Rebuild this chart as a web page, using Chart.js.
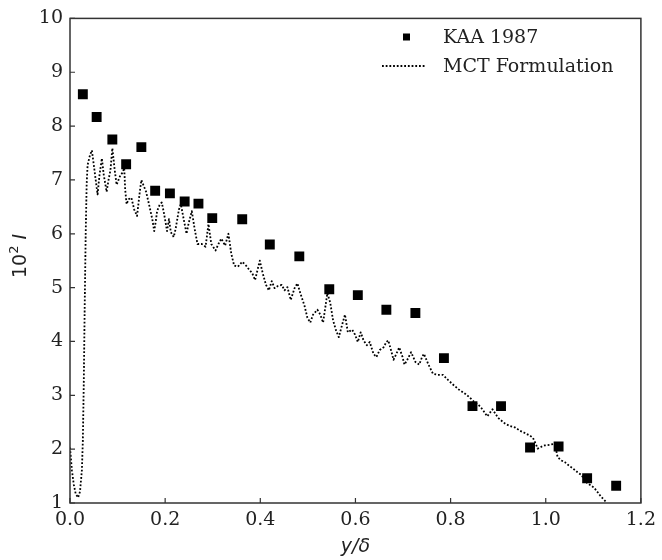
<!DOCTYPE html>
<html>
<head>
<meta charset="utf-8">
<script src="https://cdn.jsdelivr.net/npm/chart.js@4/dist/chart.umd.min.js"></script>
<style>
html,body{margin:0;padding:0;background:#fff;}
#wrap{width:662px;height:560px;position:relative;}
</style>
</head>
<body>
<div id="wrap"><canvas id="c" width="662" height="560"></canvas></div>
<script>
const xTicks = [0.0, 0.2, 0.4, 0.6, 0.8, 1.0, 1.2];
const yTicks = [1, 2, 3, 4, 5, 6, 7, 8, 9, 10];

const kaaX = [0.027,0.056,0.089,0.118,0.150,0.179,0.210,0.241,0.270,0.299,0.362,0.420,0.482,0.545,0.605,0.665,0.726,0.786,0.846,0.906,0.967,1.027,1.087,1.148];
const kaaY = [8.59,8.17,7.75,7.29,7.61,6.80,6.75,6.60,6.56,6.29,6.27,5.80,5.58,4.97,4.86,4.59,4.53,3.69,2.80,2.80,2.03,2.05,1.46,1.32];

const mctX = [0.000,0.004,0.008,0.012,0.017,0.021,0.025,0.027,0.029,0.031,0.033,0.035,0.037,0.042,0.046,0.050,0.054,0.058,0.062,0.067,0.071,0.077,0.081,0.085,0.089,0.094,0.098,0.102,0.106,0.110,0.114,0.116,0.119,0.123,0.129,0.135,0.141,0.146,0.150,0.154,0.160,0.166,0.173,0.177,0.181,0.183,0.189,0.193,0.198,0.204,0.208,0.212,0.218,0.222,0.229,0.233,0.239,0.245,0.249,0.256,0.262,0.268,0.277,0.285,0.291,0.297,0.306,0.312,0.318,0.326,0.333,0.339,0.345,0.353,0.362,0.370,0.376,0.383,0.389,0.395,0.399,0.405,0.412,0.418,0.424,0.430,0.437,0.445,0.451,0.457,0.464,0.472,0.478,0.484,0.493,0.499,0.505,0.511,0.520,0.526,0.532,0.541,0.547,0.553,0.559,0.565,0.572,0.578,0.584,0.593,0.599,0.605,0.611,0.617,0.624,0.630,0.638,0.644,0.651,0.659,0.665,0.669,0.676,0.680,0.686,0.692,0.699,0.703,0.709,0.717,0.726,0.734,0.740,0.744,0.753,0.763,0.773,0.784,0.794,0.805,0.817,0.832,0.840,0.848,0.859,0.867,0.877,0.888,0.900,0.915,0.925,0.936,0.946,0.956,0.967,0.973,0.979,0.983,0.992,0.998,1.008,1.019,1.025,1.033,1.040,1.048,1.056,1.067,1.075,1.081,1.087,1.096,1.102,1.110,1.116,1.127];
const mctY = [2.03,1.61,1.34,1.17,1.10,1.21,1.61,2.16,3.25,4.72,6.00,6.91,7.28,7.46,7.55,7.28,7.00,6.73,7.09,7.40,7.09,6.78,7.00,7.18,7.59,7.18,6.91,7.00,7.09,7.13,7.22,6.82,6.55,6.64,6.67,6.45,6.33,6.73,7.00,6.91,6.78,6.55,6.27,6.05,6.27,6.42,6.55,6.58,6.36,6.05,6.27,6.03,5.94,6.09,6.45,6.55,6.27,6.00,6.18,6.42,6.09,5.81,5.81,5.76,6.18,5.81,5.69,5.81,5.91,5.78,6.00,5.63,5.41,5.39,5.48,5.41,5.34,5.27,5.14,5.36,5.50,5.27,5.05,4.95,5.12,4.99,5.03,5.05,4.95,5.01,4.77,4.99,5.08,4.90,4.66,4.44,4.35,4.50,4.59,4.50,4.35,4.90,4.72,4.39,4.21,4.08,4.31,4.50,4.17,4.22,4.13,3.99,4.17,4.02,3.93,3.99,3.77,3.71,3.84,3.89,3.99,4.02,3.80,3.66,3.77,3.89,3.71,3.57,3.66,3.80,3.62,3.57,3.71,3.77,3.58,3.40,3.38,3.38,3.29,3.20,3.11,3.02,2.96,2.89,2.82,2.74,2.61,2.74,2.58,2.47,2.43,2.40,2.34,2.30,2.25,2.21,2.10,2.01,2.05,2.07,2.08,2.10,1.85,1.79,1.76,1.70,1.65,1.57,1.52,1.44,1.37,1.32,1.28,1.19,1.12,1.02];

const seriesNames = ['KAA 1987', 'MCT Formulation'];
const xLabel = 'y/δ';

const tickFont = {family: "'DejaVu Serif', serif", size: 19};
const frameColor = '#333';

const kaaData = kaaX.map((x, i) => ({x: x, y: kaaY[i]}));
const mctData = mctX.map((x, i) => ({x: x, y: mctY[i]}));

const framePlugin = {
  id: 'frame',
  afterDraw(chart) {
    const ctx = chart.ctx, a = chart.chartArea;
    const xs = chart.scales.x, ys = chart.scales.y;
    ctx.save();
    ctx.strokeStyle = frameColor;
    ctx.lineWidth = 1.5;
    ctx.strokeRect(a.left, a.top, a.right - a.left, a.bottom - a.top);
    ctx.lineWidth = 1.2;
    ctx.beginPath();
    xs.ticks.forEach(t => {
      const px = xs.getPixelForValue(t.value);
      ctx.moveTo(px, a.bottom); ctx.lineTo(px, a.bottom - 5);
    });
    ys.ticks.forEach(t => {
      const py = ys.getPixelForValue(t.value);
      ctx.moveTo(a.left, py); ctx.lineTo(a.left + 5, py);
    });
    ctx.stroke();

    // axis labels
    ctx.fillStyle = '#222';
    ctx.textBaseline = 'alphabetic';
    ctx.textAlign = 'center';
    ctx.font = "italic 19px 'DejaVu Sans', sans-serif";
    ctx.fillText(xLabel, (a.left + a.right) / 2, 552);

    // y label: 10^2 I rotated
    ctx.save();
    ctx.translate(26, 256);
    ctx.rotate(-Math.PI / 2);
    ctx.textAlign = 'left';
    ctx.font = "19px 'DejaVu Sans', sans-serif";
    const w10 = ctx.measureText('10').width;
    ctx.font = "13px 'DejaVu Sans', sans-serif";
    const w2 = ctx.measureText('2').width;
    ctx.font = "italic 19px 'DejaVu Sans', sans-serif";
    const wI = ctx.measureText(' I').width;
    const total = w10 + w2 + wI;
    let sx = -total / 2;
    ctx.font = "19px 'DejaVu Sans', sans-serif";
    ctx.fillText('10', sx, 0); sx += w10;
    ctx.font = "13px 'DejaVu Sans', sans-serif";
    ctx.fillText('2', sx, -8); sx += w2;
    ctx.font = "italic 19px 'DejaVu Sans', sans-serif";
    ctx.fillText(' I', sx, 0);
    ctx.restore();

    // legend
    const ds = chart.data.datasets;
    ctx.font = "19px 'DejaVu Serif', serif";
    ctx.textAlign = 'left';
    ctx.textBaseline = 'middle';
    const lx = 382, lx2 = 425, tx = 443;
    const rows = [37, 66];
    ctx.fillStyle = '#000';
    ctx.fillRect(403, rows[0] - 3.5, 7, 7);
    ctx.fillStyle = '#222';
    ctx.fillText(ds[0].label, tx, rows[0] + 1);
    ctx.strokeStyle = '#000';
    ctx.lineWidth = 1.8;
    ctx.setLineDash([1.8, 1.9]);
    ctx.beginPath();
    ctx.moveTo(lx, rows[1]); ctx.lineTo(lx2, rows[1]);
    ctx.stroke();
    ctx.setLineDash([]);
    ctx.fillText(ds[1].label, tx, rows[1] + 1);
    ctx.restore();
  }
};

new Chart(document.getElementById('c'), {
  type: 'scatter',
  data: {
    datasets: [
      {
        label: seriesNames[0],
        data: kaaData,
        pointStyle: 'rect',
        pointRadius: 7,
        pointBorderWidth: 0,
        backgroundColor: '#000',
        borderColor: '#000',
        showLine: false,
        order: 0
      },
      {
        label: seriesNames[1],
        data: mctData,
        showLine: true,
        pointRadius: 0,
        borderColor: '#000',
        borderWidth: 1.8,
        borderDash: [1.8, 1.9],
        borderCapStyle: 'butt',
        borderJoinStyle: 'round',
        fill: false,
        tension: 0,
        order: 1
      }
    ]
  },
  options: {
    responsive: false,
    animation: false,
    devicePixelRatio: 1,
    layout: {padding: {top: 11, right: 15, left: 0, bottom: 0}},
    plugins: {legend: {display: false}, tooltip: {enabled: false}},
    scales: {
      x: {
        type: 'linear',
        min: 0, max: 1.2,
        afterBuildTicks: s => { s.ticks = xTicks.map(v => ({value: v})); },
        afterFit: s => { s.height = 57; },
        grid: {display: false, drawTicks: false},
        border: {display: false},
        ticks: {
          font: tickFont, color: '#222', padding: 6,
          maxRotation: 0, autoSkip: false,
          callback: v => Number(v).toFixed(1)
        }
      },
      y: {
        type: 'linear',
        min: 1, max: 10,
        afterBuildTicks: s => { s.ticks = yTicks.map(v => ({value: v})); },
        afterFit: s => { s.width = 70; },
        grid: {display: false, drawTicks: false},
        border: {display: false},
        ticks: {
          font: tickFont, color: '#222', padding: 7,
          autoSkip: false,
          callback: v => String(v)
        }
      }
    }
  },
  plugins: [framePlugin]
});
</script>
</body>
</html>
